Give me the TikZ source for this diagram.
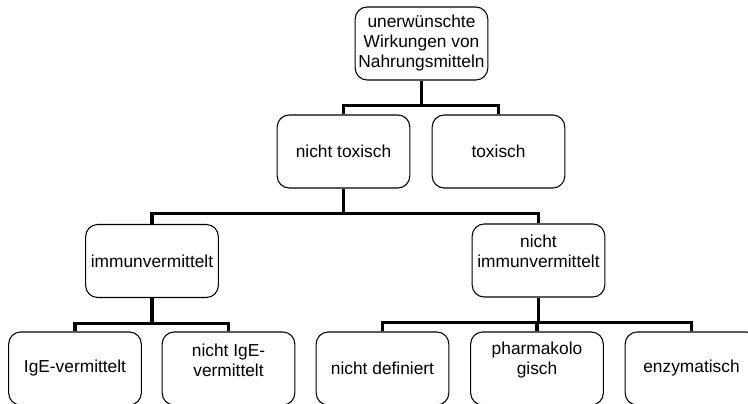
\documentclass[tikz,border=0pt]{standalone}
\usepackage{fontspec}
\setmainfont{Liberation Sans}
\begin{document}
\begin{tikzpicture}[x=0.75pt,y=-0.75pt,
  box/.style={draw=black,line width=0.8pt,rounded corners=9pt,minimum width=99.5pt,minimum height=54.75pt,inner sep=0pt,align=center,font=\fontsize{13}{15}\selectfont},
  txt/.style={inner sep=0pt,align=center,font=\fontsize{13}{15}\selectfont},
  conn/.style={line width=2.3pt,black}]
\useasboundingbox (0,0) rectangle (748,403);
\begin{scope}
\clip (0,0) rectangle (748,403);
\node[box] (top) at (421.5,43.5) {unerwünschte\\Wirkungen von\\Nahrungsmitteln};
\node[box] (nt) at (343.5,151.5) {nicht toxisch};
\node[box] (tx) at (498.5,151.5) {toxisch};
\node[box] (im) at (152,261) {immunvermittelt};
\node[box] (ni) at (538.5,260.5) {};
\node[txt] (nitext) at (538.5,251) {nicht\\immunvermittelt};
\node[box] (ige) at (75,368.5) {IgE-vermittelt};
\node[box] (nige) at (228.5,368.5) {};
\node[txt] (nigetext) at (228.5,360) {nicht IgE-\\vermittelt};
\node[box] (nd) at (382.5,368.5) {nicht definiert};
\node[box] (ph) at (537,368.5) {};
\node[txt] (phtext) at (537,360) {pharmakolo\\gisch};
\node[box] (en) at (691.5,368.5) {enzymatisch};
\draw[conn] (top.south) -- ++(0,25) -| (nt.north);
\draw[conn] (top.south) -- ++(0,25) -| (tx.north);
\draw[conn] (nt.south) -- ++(0,25) -| (im.north);
\draw[conn] (nt.south) -- ++(0,25) -| (ni.north);
\draw[conn] (im.south) -- ++(0,25) -| (ige.north);
\draw[conn] (im.south) -- ++(0,25) -| (nige.north);
\draw[conn] (ni.south) -- ++(0,25) -| (nd.north);
\draw[conn] (ni.south) -- ++(0,25) -| (ph.north);
\draw[conn] (ni.south) -- ++(0,25) -| (en.north);
\end{scope}
\end{tikzpicture}
\end{document}
